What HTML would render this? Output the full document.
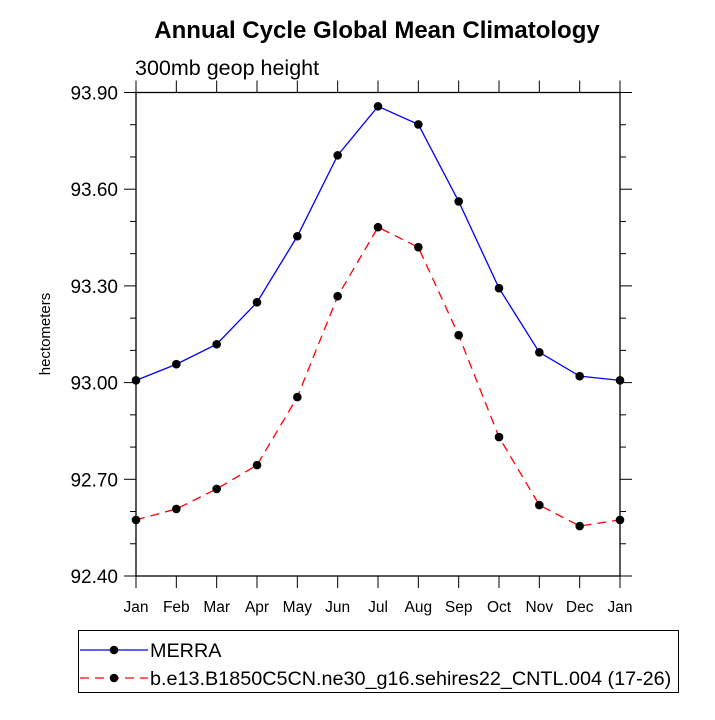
<!DOCTYPE html>
<html><head><meta charset="utf-8"><style>body{margin:0;background:#fff}svg text{font-family:"Liberation Sans",Arial,sans-serif}</style></head>
<body>
<svg id="c" width="715" height="715" xmlns="http://www.w3.org/2000/svg">
<text x="377" y="38" font-size="24" font-weight="bold" text-anchor="middle">Annual Cycle Global Mean Climatology</text>
<text x="135" y="75" font-size="21.5">300mb geop height</text>
<text transform="translate(50,334) rotate(-90)" font-size="15" text-anchor="middle">hectometers</text>
<g id="ax"></g>
<g id="plot"></g>
<rect x="78.5" y="630.5" width="600" height="62" fill="none" stroke="#000"/>
<g>
<line x1="80" y1="650" x2="148" y2="650" stroke="#0000ff" stroke-width="1.3"/><circle cx="114" cy="650" r="4.3"/>
<text x="150" y="657" font-size="19.8">MERRA</text></g>
<g>
<line x1="80" y1="678" x2="148" y2="678" stroke="#ff0000" stroke-width="1.3" stroke-dasharray="9,6"/><circle cx="114" cy="678" r="4.3"/>
<text x="150" y="685" font-size="19.8">b.e13.B1850C5CN.ne30_g16.sehires22_CNTL.004 (17-26)</text></g>
</svg>
<script>
const months=["Jan","Feb","Mar","Apr","May","Jun","Jul","Aug","Sep","Oct","Nov","Dec","Jan"];
const merra=[93.007,93.057,93.119,93.249,93.454,93.705,93.857,93.801,93.562,93.293,93.094,93.020,93.007];
const model=[92.574,92.608,92.670,92.744,92.955,93.268,93.482,93.420,93.147,92.831,92.620,92.555,92.574];
const yTicks=[92.40,92.70,93.00,93.30,93.60,93.90];
const yMin=92.4,yMax=93.9,L=136,R=620,T=92.5,B=576;
const sx=i=>L+(R-L)*i/(months.length-1);
const sy=v=>B-(B-T)*(v-yMin)/(yMax-yMin);
const NS="http://www.w3.org/2000/svg";
function mk(t,a,p){const e=document.createElementNS(NS,t);for(const k in a)e.setAttribute(k,a[k]);p.appendChild(e);return e;}
const ax=document.getElementById('ax'),pl=document.getElementById('plot');
const fr=mk('rect',{x:L,y:T,width:R-L,height:B-T,fill:'none',stroke:'#000','stroke-width':1.3},ax);


months.forEach((m,i)=>{const x=sx(i);
mk('line',{x1:x,y1:B,x2:x,y2:B+12,stroke:'#000'},ax);
mk('line',{x1:x,y1:T,x2:x,y2:T-12,stroke:'#000'},ax);
const t=mk('text',{x:x,y:B+36,'font-size':15.5,'text-anchor':'middle'},ax);t.textContent=m;

});
for(let v=yMin;v<=yMax+1e-6;v+=0.1){const y=sy(v);const maj=Math.abs(((v-yMin)/0.3)-Math.round((v-yMin)/0.3))<1e-6;const len=maj?12:6;
mk('line',{x1:L,y1:y,x2:L-len,y2:y,stroke:'#000'},ax);mk('line',{x1:R,y1:y,x2:R+len,y2:y,stroke:'#000'},ax);}
yTicks.forEach(v=>{const t=mk('text',{x:118,y:sy(v)+7,'font-size':19,'text-anchor':'end'},ax);t.textContent=v.toFixed(2);

});
function series(d,col,dash,name){
const p=mk('polyline',{points:d.map((v,i)=>sx(i)+','+sy(v)).join(' '),fill:'none',stroke:col,'stroke-width':1.3},pl);
if(dash)p.setAttribute('stroke-dasharray',dash);


d.forEach((v,i)=>{const c=mk('circle',{cx:sx(i),cy:sy(v),r:4.3},pl);

});}
series(merra,'#0000ff',null,'merra');
series(model,'#ff0000','9,6','model');
</script>
</body></html>
